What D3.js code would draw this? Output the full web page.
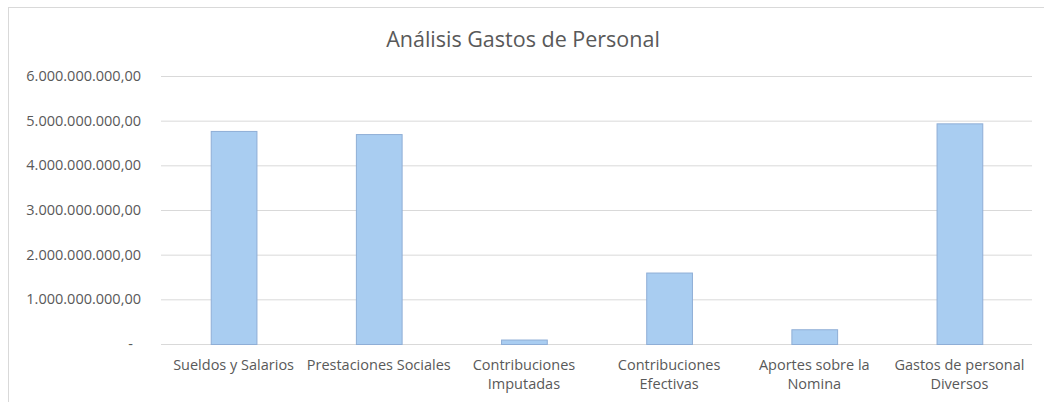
<!DOCTYPE html>
<html>
<head>
<meta charset="utf-8">
<script src="https://cdn.jsdelivr.net/npm/d3@7"></script>
<style>
  body { margin: 0; background: #fff; }
  text { font-family: "Open Sans", Lato, sans-serif; fill: #595959; }
</style>
</head>
<body>
<svg id="chart"></svg>
<script>
// data
var categories = [
  ["Sueldos y Salarios"],
  ["Prestaciones Sociales"],
  ["Contribuciones", "Imputadas"],
  ["Contribuciones", "Efectivas"],
  ["Aportes sobre la", "Nomina"],
  ["Gastos de personal", "Diversos"]
];
var values = [4770000000, 4700000000, 100000000, 1600000000, 330000000, 4940000000];
var yTicks = [0, 1e9, 2e9, 3e9, 4e9, 5e9, 6e9];

var width = 1044, height = 402;
var margin = { left: 161, right: 12, top: 76, bottom: 58 };

var svg = d3.select("#chart").attr("width", width).attr("height", height);

// chart area border
svg.append("rect")
  .attr("x", 8.5).attr("y", 7.5)
  .attr("width", 1060).attr("height", 420)
  .attr("fill", "none").attr("stroke", "#d9d9d9");

svg.append("text")
  .attr("x", 523).attr("y", 47)
  .attr("text-anchor", "middle")
  .style("font-size", "21.5px")
  .text("Análisis Gastos de Personal");

var x = d3.scaleBand()
  .domain(d3.range(categories.length))
  .range([margin.left, width - margin.right])
  .paddingInner(0.685).paddingOuter(0.3425);

var y = d3.scaleLinear()
  .domain([0, 6e9])
  .range([height - margin.bottom, margin.top]);

function fmt(v) {
  if (v === 0) return "-";
  var s = d3.format(",.2f")(v); // 1,000,000,000.00
  return s.replace(/,/g, "#").replace(".", ",").replace(/#/g, ".");
}

var yAxis = svg.append("g")
  .attr("transform", "translate(" + margin.left + ",0)")
  .call(d3.axisLeft(y).tickValues(yTicks).tickFormat(fmt)
    .tickSize(-(width - margin.left - margin.right)).tickPadding(20));
yAxis.select(".domain").remove();
yAxis.selectAll("line").attr("stroke", "#d9d9d9");
yAxis.selectAll("text").style("font-size", "14.5px").attr("fill", "#595959");
yAxis.selectAll(".tick").filter(function (d) { return d === 0; })
  .select("text").attr("dx", -8);

svg.selectAll(".bar")
  .data(values)
  .enter()
  .append("rect")
  .attr("class", "bar")
  .attr("x", function (d, i) { return x(i) + 0.5; })
  .attr("y", function (d) { return y(d) + 0.5; })
  .attr("width", x.bandwidth())
  .attr("height", function (d) { return y(0) - y(d); })
  .attr("fill", "#a9cdf1")
  .attr("stroke", "#8faed6")
  .attr("stroke-width", 1);

// category labels
var lab = svg.selectAll(".cat")
  .data(categories)
  .enter()
  .append("text")
  .attr("class", "cat")
  .attr("text-anchor", "middle")
  .style("font-size", "14.5px")
  .attr("transform", function (d, i) {
    return "translate(" + (x(i) + x.bandwidth() / 2) + "," + (y(0) + 26) + ")";
  });
lab.selectAll("tspan")
  .data(function (d) { return d; })
  .enter()
  .append("tspan")
  .attr("x", 0)
  .attr("dy", function (d, i) { return i === 0 ? 0 : 19; })
  .text(function (d) { return d; });
</script>
</body>
</html>
